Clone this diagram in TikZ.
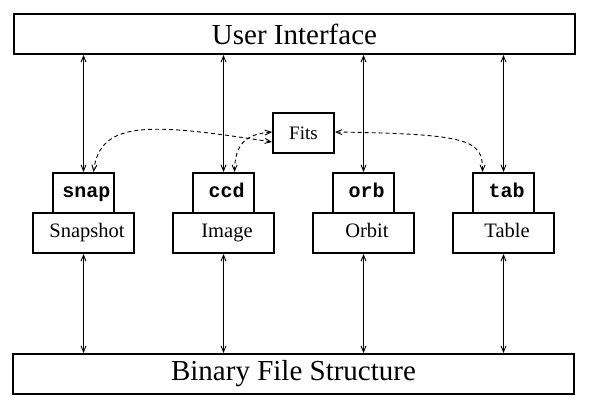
\documentclass[tikz,border=0pt]{standalone}
\usepackage{fontspec}
\setmainfont{Liberation Serif}
\setmonofont{Liberation Mono}
\usetikzlibrary{arrows.meta}
\begin{document}
\begin{tikzpicture}[x=1pt,y=-1pt,
  bigbox/.style={draw,line width=2pt,minimum width=561pt,minimum height=40pt,inner sep=0pt,font=\fontsize{29}{30}\selectfont},
  tagbox/.style={draw,line width=2pt,minimum width=61pt,minimum height=40pt,inner sep=0pt,text height=14pt,text depth=4pt,font=\fontsize{20}{22}\ttfamily\bfseries,execute at begin node=\hspace*{6pt}},
  kindbox/.style={draw,line width=2pt,minimum width=101pt,minimum height=40pt,inner sep=0pt,text height=14pt,text depth=4pt,font=\fontsize{20.5}{22}\selectfont,execute at begin node=\hspace*{7pt}},
  fitsbox/.style={draw,line width=2pt,minimum width=61pt,minimum height=40pt,inner sep=0pt,font=\fontsize{19}{21}\selectfont},
  link/.style={line width=0.9pt,{Straight Barb[length=6pt,width=5pt]}-{Straight Barb[length=6pt,width=5pt]}},
  dlink/.style={line width=0.9pt,dash pattern=on 4pt off 3pt,{Straight Barb[length=6pt,width=5pt]}-{Straight Barb[length=6pt,width=5pt]}}]
\useasboundingbox[fill=white] (0,0) rectangle (591,411);

\node[bigbox] (ui) at (294.5,34) {User Interface};
\node[bigbox] (bfs) at (293.5,374) {Binary File Structure};

\node[tagbox] (snap) at (83.5,193) {snap};
\node[kindbox] (snapshot) at (83.5,233) {Snapshot};
\node[tagbox] (ccd) at (223.5,193) {ccd};
\node[kindbox] (image) at (223.5,233) {Image};
\node[tagbox] (orb) at (363.5,193) {orb};
\node[kindbox] (orbit) at (363.5,233) {Orbit};
\node[tagbox] (tab) at (503.5,193) {tab};
\node[kindbox] (table) at (503.5,233) {Table};

\node[fitsbox] (fits) at (303.5,133) {Fits};

\foreach \t/\k in {snap/snapshot,ccd/image,orb/orbit,tab/table}{
  \draw[link] (\t.north |- ui.south) -- (\t.north);
  \draw[link] (\k.south) -- (\k.south |- bfs.north);
}

\draw[dlink] ([yshift=-9pt]fits.west) .. controls (150,123) and (100,120) .. ([xshift=10pt]snap.north);
\draw[dlink] ([yshift=1pt]fits.west) .. controls (245,134) and (235,145) .. ([xshift=11pt]ccd.north);
\draw[dlink] ([yshift=1pt]fits.east) .. controls (470,134) and (483,140) .. ([xshift=-21pt]tab.north);
\end{tikzpicture}
\end{document}
